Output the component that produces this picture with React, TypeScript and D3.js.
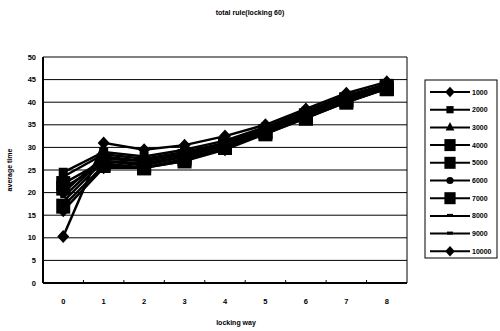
import React from "react";
import * as d3 from "d3";

const categories = ["0", "1", "2", "3", "4", "5", "6", "7", "8"];
const seriesNames = ["1000", "2000", "3000", "4000", "5000", "6000", "7000", "8000", "9000", "10000"];
const s1000 = [10.3, 31, 29.5, 30.5, 32.5, 35, 38.5, 42, 44.5];
const s2000 = [24.5, 29, 28, 29.5, 31.5, 34.5, 38, 41.5, 44];
const s3000 = [23.5, 28.5, 27.5, 29, 31, 34, 37.5, 41, 43.5];
const s4000 = [22, 27, 26, 28, 30.5, 33.5, 37, 40.5, 43.5];
const s5000 = [21, 26.5, 25.5, 27.5, 30, 33.5, 36.5, 40.5, 43];
const s6000 = [20, 28, 27, 28.5, 31, 34, 37.5, 41, 44];
const s7000 = [17, 26, 25.5, 27, 30, 33, 36.5, 40, 43];
const s8000 = [19, 27.5, 27, 28.5, 31, 34, 37.5, 41, 44];
const s9000 = [18, 27, 26.5, 28, 30.5, 34, 37, 40.5, 43.5];
const s10000 = [16, 25.5, 25.5, 27, 29.5, 33, 36.5, 40, 43];
const yTicks = [0, 5, 10, 15, 20, 25, 30, 35, 40, 45, 50];
const markers = ["diamond", "square", "triangle", "bigsquare", "bigsquare", "circle", "bigsquare", "dash", "dash", "diamond"];

const allSeries = [s1000, s2000, s3000, s4000, s5000, s6000, s7000, s8000, s9000, s10000];

const FONT = "'Liberation Sans', Arial, sans-serif";

function Marker({ type, x, y, legend }: { type: string; x: number; y: number; legend?: boolean }) {
  const k = legend ? 0.8 : 1;
  if (type === "diamond") {
    const w = 6 * k, h = 6.5 * k;
    return <path d={`M${x},${y - h}L${x + w},${y}L${x},${y + h}L${x - w},${y}Z`} fill="#000" />;
  }
  if (type === "square") return <rect x={x - 4.5 * k} y={y - 4.5 * k} width={9 * k} height={9 * k} fill="#000" />;
  if (type === "bigsquare") return <rect x={x - 7 * k} y={y - 7.5 * k} width={14 * k} height={15 * k} fill="#000" />;
  if (type === "triangle") {
    const s = 5.5 * k;
    return <path d={`M${x},${y - s * 1.2}L${x + s},${y + s * 0.7}L${x - s},${y + s * 0.7}Z`} fill="#000" />;
  }
  if (type === "circle") return <circle cx={x} cy={y} r={4.5 * k} fill="#000" />;
  return <rect x={x - 3} y={y - 2} width={6} height={3} fill="#000" />;
}

export default function App() {
  const W = 500, H = 331;
  const left = 43, right = 407, top = 57, bottom = 283;
  const x = d3.scaleBand<string>().domain(categories).range([left, right]);
  const y = d3.scaleLinear().domain([0, 50]).range([bottom, top]);
  const cx = (c: string) => (x(c) as number) + x.bandwidth() / 2;
  const line = d3.line<number>().x((_, i) => cx(categories[i])).y((v) => y(v));

  const legX = 425, legY = 80, legW = 72, legH = 178;
  const legStep = 17.7;

  return (
    <svg width={W} height={H} style={{ position: "absolute", left: 0, top: 0, background: "#fff" }} fontFamily={FONT}>
      <rect width={W} height={H} fill="#fff" />
      <text x={250} y={15} textAnchor="middle" fontSize={7} fontWeight="bold">total rule(locking 60)</text>
      {yTicks.map((t) => (
        <g key={t}>
          <line x1={left} x2={right} y1={y(t)} y2={y(t)} stroke="#000" strokeWidth={1} />
          <text x={36} y={y(t) + 2.5} textAnchor="end" fontSize={7.5} fontWeight="bold">{t}</text>
        </g>
      ))}
      <line x1={left} x2={left} y1={top} y2={bottom} stroke="#000" strokeWidth={2} />
      <line x1={right} x2={right} y1={top} y2={bottom} stroke="#000" strokeWidth={1} />
      <line x1={left} x2={right} y1={bottom} y2={bottom} stroke="#000" strokeWidth={2} />
      {categories.map((c, i) => (
        <g key={c}>
          {i > 0 && <line x1={x(c)} x2={x(c)} y1={bottom} y2={bottom - 3} stroke="#000" />}
          <text x={cx(c)} y={304} textAnchor="middle" fontSize={7.5} fontWeight="bold">{c}</text>
        </g>
      ))}
      <text x={236} y={325} textAnchor="middle" fontSize={7} fontWeight="bold">locking way</text>
      <text transform={`translate(12,170) rotate(-90)`} textAnchor="middle" fontSize={7} fontWeight="bold">average time</text>
      {allSeries.map((s, k) => (
        <path key={"l" + k} d={line(s) || ""} fill="none" stroke="#000" strokeWidth={2.5} />
      ))}
      {allSeries.map((s, k) => (
        <g key={"m" + k}>
          {s.map((v, i) => (
            <Marker key={i} type={markers[k]} x={cx(categories[i])} y={y(v)} />
          ))}
        </g>
      ))}
      <rect x={legX} y={legY} width={legW} height={legH} fill="#fff" stroke="#000" strokeWidth={1} />
      {seriesNames.map((n, k) => {
        const ly = legY + 12 + k * legStep;
        return (
          <g key={n}>
            <line x1={legX + 5} x2={legX + 45} y1={ly} y2={ly} stroke="#000" strokeWidth={2} />
            <Marker type={markers[k]} x={legX + 25} y={ly} legend />
            <text x={legX + 47} y={ly + 2.5} fontSize={7} fontWeight="bold">{n}</text>
          </g>
        );
      })}
    </svg>
  );
}
